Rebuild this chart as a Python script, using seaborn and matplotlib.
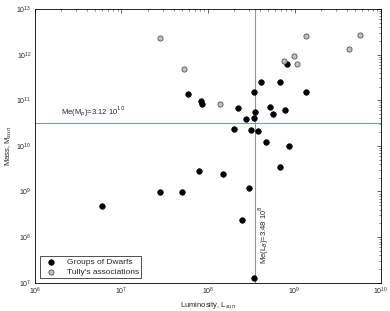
import numpy as np
import pandas as pd
import matplotlib
matplotlib.use('Agg')
import matplotlib.pyplot as plt
import seaborn as sns

sns.set_style('white')
plt.rcParams['font.family'] = ['Liberation Sans', 'DejaVu Sans']
plt.rcParams['font.size'] = 5.5

# groups of dwarfs: log10 luminosity, log10 mass
dwarf_logL = [7.765, 8.616, 8.832, 8.535, 9.133, 7.92, 7.93, 8.35, 8.717, 8.894,
              8.547, 8.75, 8.44, 8.53, 8.30, 8.50, 8.58, 8.67, 8.94, 8.91,
              6.77, 7.44, 7.70, 7.896, 8.17, 8.47, 8.83, 8.39, 8.535]
dwarf_logM = [11.13, 11.41, 11.40, 11.18, 11.17, 10.99, 10.92, 10.84, 10.85, 10.78,
              10.74, 10.69, 10.59, 10.62, 10.36, 10.35, 10.32, 10.08, 9.99, 11.79,
              8.68, 8.98, 8.99, 9.455, 9.38, 9.07, 9.54, 8.38, 7.10]
# Tully's associations
tully_logL = [7.445, 7.72, 9.137, 9.757, 9.626, 8.99, 8.879, 9.03, 8.14]
tully_logM = [12.37, 11.68, 12.40, 12.44, 12.116, 11.97, 11.85, 11.80, 10.91]

median_L = 3.48e8
median_M = 3.12e10

df = pd.DataFrame({
    'L': 10 ** np.array(dwarf_logL + tully_logL),
    'M': 10 ** np.array(dwarf_logM + tully_logM),
    'sample': ['Groups of Dwarfs'] * len(dwarf_logL) + ["Tully's associations"] * len(tully_logL),
})

fig = plt.figure(figsize=(3.9, 3.11), dpi=100)
ax = fig.add_axes([0.0897, 0.091, 0.8873, 0.880])

ax.axhline(median_M, color='#7b93f0', lw=0.8, zorder=1)
ax.axvline(median_L, color='#7b93f0', lw=0.8, zorder=1)

sns.scatterplot(data=df[df['sample'] == 'Groups of Dwarfs'], x='L', y='M', ax=ax,
                color='black', edgecolor='black', s=16, linewidth=0.5,
                label='Groups of Dwarfs', zorder=3)
sns.scatterplot(data=df[df['sample'] != 'Groups of Dwarfs'], x='L', y='M', ax=ax,
                color='#c0c0c0', edgecolor='#555555', s=14, linewidth=0.6,
                label="Tully's associations", zorder=3)

ax.set_xscale('log')
ax.set_yscale('log')
ax.set_xlim(1e6, 1e10)
ax.set_ylim(1e7, 1e13)
ax.set_xlabel('Luminosity, L$_{sun}$', fontsize=5.5, labelpad=2)
ax.set_ylabel('Mass, M$_{sun}$', fontsize=5.5, labelpad=2)

ax.tick_params(which='both', direction='in', top=True, right=True, labelsize=5, pad=2.5)
ax.tick_params(which='major', length=3, width=0.5)
ax.tick_params(which='minor', length=1.5, width=0.4)
ax.xaxis.set_minor_locator(matplotlib.ticker.LogLocator(base=10, subs=np.arange(2, 10)))
ax.yaxis.set_minor_locator(matplotlib.ticker.LogLocator(base=10, subs=np.arange(2, 10)))
for sp in ax.spines.values():
    sp.set_linewidth(0.6)
    sp.set_color('black')

ax.text(2e6, median_M * 1.25, 'Me(M$_p$)=3.12 10$^{10}$', fontsize=5.5, va='bottom')
ax.text(median_L * 1.06, 2.6e7, 'Me(L$_B$)=3.48 10$^8$', fontsize=5.5, rotation=90,
        va='bottom', ha='left')

leg = ax.legend(loc='lower left', fontsize=6, frameon=True, fancybox=False,
                edgecolor='black', borderpad=0.25, handletextpad=0.8, handlelength=2.2,
                labelspacing=0.25, borderaxespad=0.55)
leg.get_frame().set_linewidth(0.6)

fig.savefig('out.png', dpi=100)
